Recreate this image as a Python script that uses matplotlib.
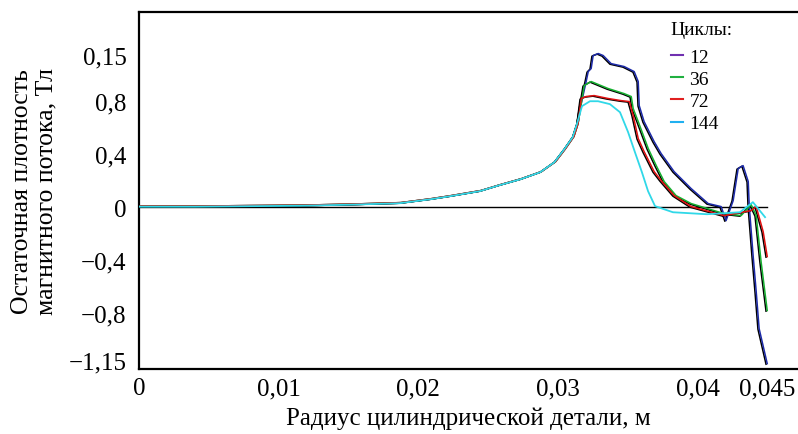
import numpy as np
import matplotlib.pyplot as plt
import matplotlib.transforms as mtransforms

plt.rcParams['font.family'] = ['Liberation Serif', 'DejaVu Serif']

# === Common rising part (all cycles coincide) ===
x_common = [0, 0.00403, 0.00807, 0.0116, 0.01513, 0.01866, 0.02088, 0.02229, 0.02441,
            0.02582, 0.02733, 0.02874, 0.02975, 0.03046, 0.03106, 0.03136]
y_common = [0.004, 0.004, 0.008, 0.011, 0.019, 0.030, 0.060, 0.083, 0.121,
            0.166, 0.211, 0.264, 0.339, 0.437, 0.528, 0.626]

# === Tails per number of cycles ===
x_12 = [0.03159, 0.03194, 0.03209, 0.03230, 0.03244, 0.03281, 0.03316, 0.03373,
        0.03466, 0.03538, 0.03567, 0.03574, 0.03609, 0.03681, 0.03731, 0.03824,
        0.03946, 0.04068, 0.04161, 0.04196, 0.04247, 0.04283, 0.04318, 0.04355,
        0.04362, 0.04390, 0.04412, 0.04433, 0.04491]
y_12 = [0.777, 0.943, 1.018, 1.041, 1.139, 1.154, 1.139, 1.078,
        1.056, 1.018, 0.943, 0.762, 0.641, 0.490, 0.400, 0.264,
        0.136, 0.023, 0.0, -0.106, 0.045, 0.287, 0.309, 0.189,
        0.008, -0.370, -0.641, -0.920, -1.184]

x_36 = [0.03159, 0.03180, 0.03230, 0.03352, 0.03466, 0.03517, 0.03531, 0.03567,
        0.03639, 0.03696, 0.03753, 0.03838, 0.03946, 0.04182, 0.04304, 0.04376,
        0.04412, 0.04447, 0.04491]
y_36 = [0.777, 0.913, 0.943, 0.890, 0.852, 0.830, 0.739, 0.641,
        0.437, 0.309, 0.189, 0.083, 0.023, -0.053, -0.068, 0.015,
        -0.068, -0.415, -0.784]

x_72 = [0.03159, 0.03194, 0.03251, 0.03352, 0.03445, 0.03503, 0.03531, 0.03567,
        0.03609, 0.03681, 0.03731, 0.03824, 0.03946, 0.04182, 0.04376, 0.04412,
        0.04462, 0.04491]
y_72 = [0.815, 0.830, 0.837, 0.815, 0.799, 0.792, 0.686, 0.513,
        0.415, 0.264, 0.196, 0.083, 0.0, -0.068, -0.030, 0.0,
        -0.189, -0.377]

x_144 = [0.03173, 0.03230, 0.03288, 0.03373, 0.03445, 0.03503, 0.03552, 0.03602,
         0.03646, 0.03696, 0.03824, 0.04068, 0.04304, 0.04397, 0.04484]
y_144 = [0.762, 0.799, 0.799, 0.777, 0.716, 0.566, 0.415, 0.264,
         0.121, 0.008, -0.038, -0.053, -0.038, 0.038, -0.075]

cycles = ["12", "36", "72", "144"]
tails = [(x_12, y_12), (x_36, y_36), (x_72, y_72), (x_144, y_144)]
colors = ["#1c2aa8", "#16b030", "#e01010", "#30d8e8"]
legend_colors = ["#7030b0", "#20b040", "#e02020", "#20b0f0"]

yticks = [1.15, 0.8, 0.4, 0, -0.4, -0.8, -1.15]
yticklabels = ["0,15", "0,8", "0,4", "0", "\u22120,4", "\u22120,8", "\u22121,15"]
xticks = [0, 0.01, 0.02, 0.03, 0.04, 0.045]
xticklabels = ["0", "0,01", "0,02", "0,03", "0,04", "0,045"]

fig = plt.figure(figsize=(7.98, 4.35), dpi=100)
ax = fig.add_axes([0.1742, 0.1494, 0.8258, 0.8214])

# zero line
ax.plot([0, 0.04498], [0, 0], color="black", lw=1.0, zorder=1)

shift = mtransforms.offset_copy(ax.transData, fig=fig, x=1.2, y=0.6, units='dots')
handles = []
for (xt, yt), c, lc, lab in zip(tails, colors, legend_colors, cycles):
    xs = x_common + xt
    ys = y_common + yt
    if lab != "144":
        ax.plot(xs, ys, color="black", lw=1.1, zorder=2)
        ax.plot(xs, ys, color=c, lw=1.1, zorder=3, transform=shift)
    else:
        ax.plot(xs, ys, color=c, lw=1.3, zorder=3)
    h, = ax.plot([], [], color=lc, lw=1.5)
    handles.append(h)

ax.set_xlim(0, 0.0472)
ax.set_ylim(-1.22, 1.474)
ax.set_yticks(yticks)
ax.set_yticklabels(yticklabels)
ax.set_xticks(xticks)
ax.set_xticklabels(xticklabels)
ax.tick_params(length=0, labelsize=18)
ax.tick_params(axis='y', pad=9)
ax.tick_params(axis='x', pad=6)

for s in ['left', 'top', 'bottom']:
    ax.spines[s].set_linewidth(1.6)
ax.spines['right'].set_visible(False)

ax.set_ylabel("Остаточная плотность\nмагнитного потока, Тл", fontsize=18.5, labelpad=8,
              linespacing=1.15)
ax.set_xlabel("Радиус цилиндрической детали, м", fontsize=18, labelpad=5)

ax.text(0.806, 0.951, "Циклы:", transform=ax.transAxes, fontsize=14,
        ha="left", va="center")
leg = ax.legend(handles, cycles, loc="upper left",
                bbox_to_anchor=(0.807, 0.897), frameon=False, fontsize=14,
                handlelength=0.65, handletextpad=0.3,
                labelspacing=0.23, borderaxespad=0, borderpad=0)

fig.savefig("out.png", dpi=100)
